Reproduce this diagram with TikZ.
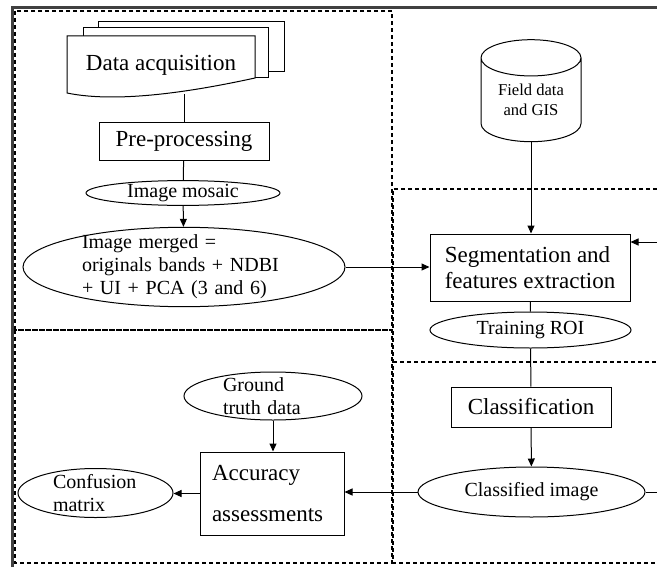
\documentclass[tikz,border=0pt]{standalone}
\usepackage{fontspec}
\setmainfont{Liberation Serif}
\usetikzlibrary{arrows.meta,shapes.geometric}

\begin{document}
\begin{tikzpicture}[
  x=0.5pt, y=-0.5pt,
  line width=0.5pt,
  bigfont/.style={font=\fontsize{11.5}{13}\selectfont},
  midfont/.style={font=\fontsize{10}{11.5}\selectfont},
  procbox/.style={draw,rectangle,inner sep=0pt,bigfont},
  dataell/.style={draw,ellipse,inner sep=0pt,midfont},
  dbstore/.style={draw,cylinder,shape border rotate=90,aspect=0.55,
                  minimum width=50pt,minimum height=51pt,inner sep=0pt,
                  align=center,font=\fontsize{8.3}{10}\selectfont},
  arr/.style={-{Triangle[length=4pt,width=3.5pt]}},
  panel/.style={dash pattern=on 2pt off 1.5pt,line width=0.75pt},
  frame/.style={line width=1.5pt,black!75},
]
  \useasboundingbox (0,0) rectangle (657,567);

  % Outer frame and dashed panels
  \draw[frame] (12,567) -- (12,8) -- (657,8);
  \draw[panel] (15,11) rectangle (392,330);
  \draw[panel] (15,330) rectangle (392,563);
  \draw[panel] (657,189) -- (393,189) -- (393,563) -- (657,563);
  \draw[panel] (393,362) -- (657,362);

  % Data acquisition (stack of documents)
  \draw[fill=white] (98,22) rectangle (284,72);
  \draw[fill=white] (83,28) rectangle (268,78);
  \draw[fill=white] (67,36) -- (255,36) -- (255,78)
    .. controls (200,90) and (120,104) .. (67,93) -- cycle;
  \node[bigfont] (acq) at (161,65) {Data acquisition};
  \coordinate (acqbot) at (184,94);

  % Left column
  \node[procbox,minimum width=85pt,minimum height=19pt] (pre) at (184,141) {Pre-processing};
  \node[dataell,minimum width=97pt,minimum height=12pt] (mosaic) at (183,193) {Image mosaic};
  \node[dataell,minimum width=161pt,minimum height=39pt,inner ysep=-2pt,
        align=left,text width=102pt] (merged) at (184,267)
    {Image merged =\\originals bands + NDBI\\+ UI + PCA (3 and 6)};

  % Right column
  \node[dbstore] (field) at (531,100) {Field data\\and GIS};
  \node[procbox,minimum width=100pt,minimum height=33.5pt,align=left] (seg) at (530,267.5)
    {Segmentation and\\features extraction};
  \node[dataell,minimum width=100.5pt,minimum height=18pt] (roi) at (530.5,330) {Training ROI};
  \node[procbox,minimum width=80pt,minimum height=20pt] (cls) at (531,407) {Classification};
  \node[dataell,minimum width=113.5pt,minimum height=25pt] (clsimg) at (531.5,492) {Classified image};

  % Accuracy part
  \node[dataell,minimum width=89pt,minimum height=24pt,inner ysep=-1pt,
        align=left,text width=50pt] (ground) at (273,396) {Ground\\truth data};
  \node[procbox,minimum width=72pt,minimum height=41.5pt,align=left,text width=60pt,
        font=\fontsize{11.5}{20.5}\selectfont] (acc) at (272,493.5) {Accuracy\\assessments};
  \node[dataell,minimum width=77.5pt,minimum height=24.5pt,inner ysep=-1pt,
        align=left,text width=42.5pt] (conf) at (95.5,493) {Confusion\\matrix};

  % Connectors
  \coordinate (segin) at (657,242);
  \coordinate (clsout) at (657,492);
  \draw (acqbot) -- (pre.north);
  \draw (pre) -- (mosaic);
  \draw[arr] (mosaic) -- (merged);
  \draw[arr] (merged.east) -- (merged.east -| seg.west);
  \draw[arr] (field.bottom) -- (field.bottom |- seg.north);
  \draw[arr] (segin) -- (segin -| seg.east);
  \draw (seg) -- (roi);
  \draw (roi) -- (cls);
  \draw[arr] (cls) -- (clsimg);
  \draw (clsimg.east) -- (clsout);
  \draw[arr] (clsimg.west) -- (clsimg.west -| acc.east);
  \draw[arr] (ground) -- (ground.south |- acc.north);
  \draw[arr] (acc.west) -- (acc.west -| conf.east);
\end{tikzpicture}
\end{document}
